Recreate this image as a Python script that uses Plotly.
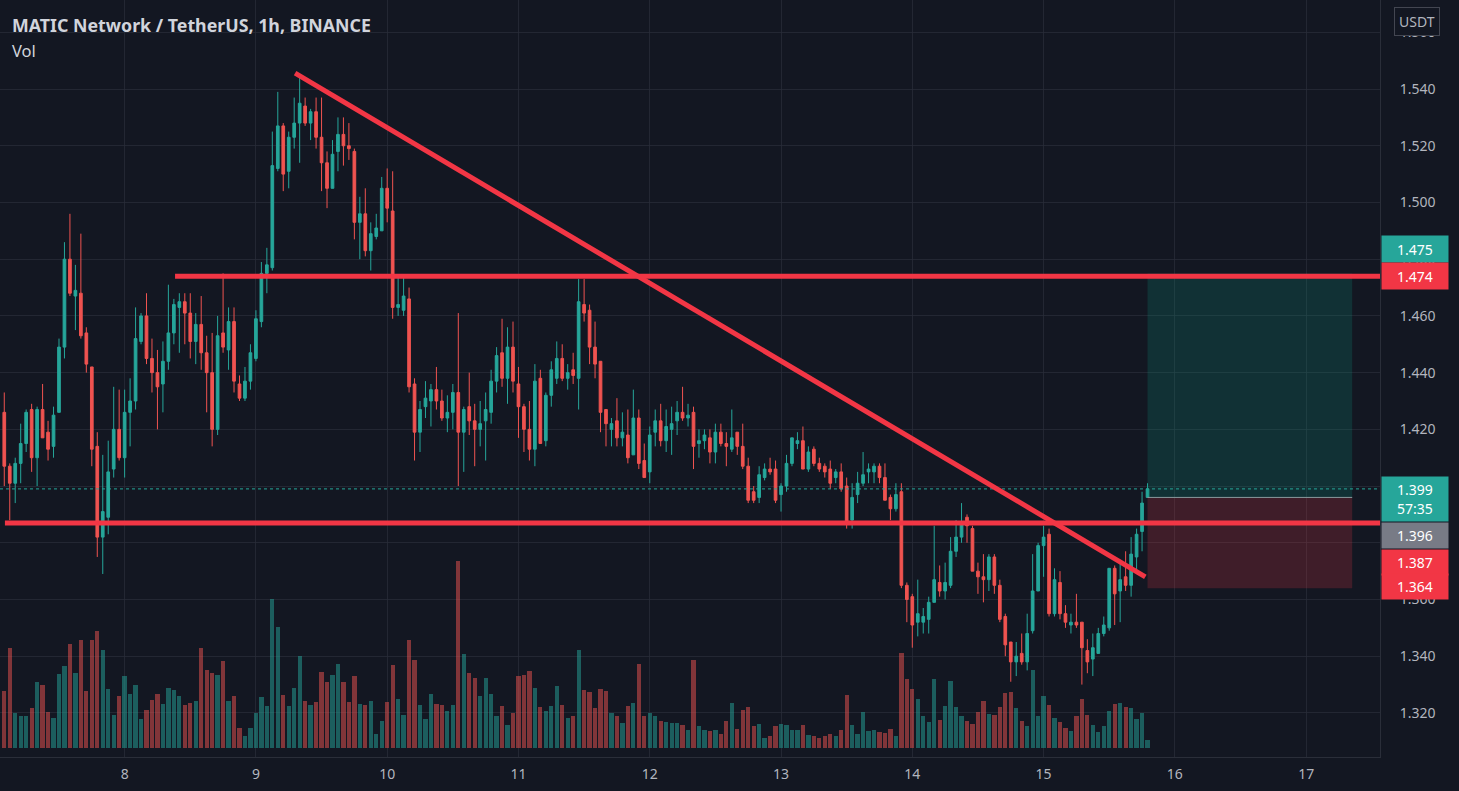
import pandas as pd
import plotly.graph_objects as go

# ---------------- data (MATIC/USDT 1h, Binance) ----------------
start_time = "2021-07-07 02:00"
opens = [1.426,1.407,1.401,1.408,1.415,1.427,1.410,1.427,1.419,1.414,
         1.426,1.449,1.480,1.467,1.468,1.454,1.442,1.414,1.382,1.389,
         1.406,1.420,1.410,1.426,1.430,1.451,1.460,1.445,1.440,1.436,
         1.444,1.454,1.463,1.465,1.461,1.451,1.457,1.447,1.440,1.420,
         1.454,1.448,1.458,1.436,1.431,1.437,1.445,1.458,1.475,1.477,
         1.512,1.527,1.511,1.523,1.528,1.534,1.528,1.532,1.523,1.514,
         1.505,1.518,1.524,1.520,1.518,1.493,1.496,1.483,1.488,1.490,
         1.505,1.497,1.463,1.462,1.466,1.436,1.419,1.428,1.430,1.434,
         1.430,1.424,1.426,1.433,1.419,1.428,1.423,1.420,1.423,1.426,
         1.437,1.447,1.438,1.449,1.436,1.428,1.420,1.413,1.438,1.416,
         1.432,1.438,1.445,1.438,1.441,1.438,1.464,1.462,1.449,1.444,
         1.427,1.420,1.423,1.417,1.418,1.411,1.424,1.409,1.405,1.419,
         1.423,1.416,1.420,1.423,1.426,1.424,1.426,1.415,1.416,1.417,
         1.412,1.419,1.415,1.413,1.419,1.414,1.407,1.398,1.396,1.403,
         1.406,1.406,1.397,1.400,1.408,1.415,1.416,1.406,1.413,1.408,
         1.407,1.406,1.403,1.405,1.400,1.388,1.397,1.401,1.405,1.405,
         1.407,1.403,1.396,1.392,1.398,1.365,1.361,1.352,1.352,1.353,
         1.359,1.366,1.363,1.365,1.377,1.382,1.389,1.385,1.370,1.368,
         1.367,1.375,1.365,1.354,1.345,1.338,1.341,1.338,1.349,1.363,
         1.379,1.383,1.355,1.366,1.355,1.351,1.352,1.352,1.342,1.339,
         1.341,1.348,1.350,1.371,1.363,1.368,1.365,1.375,1.384,1.396]
highs = [1.433,1.408,1.410,1.422,1.427,1.429,1.428,1.436,1.423,1.428,
         1.452,1.486,1.496,1.478,1.489,1.456,1.442,1.419,1.411,1.416,
         1.435,1.434,1.434,1.438,1.463,1.461,1.468,1.452,1.448,1.451,
         1.471,1.466,1.468,1.468,1.468,1.461,1.467,1.453,1.454,1.460,
         1.475,1.463,1.463,1.439,1.442,1.450,1.462,1.479,1.484,1.525,
         1.539,1.528,1.525,1.537,1.545,1.537,1.533,1.537,1.537,1.518,
         1.522,1.530,1.530,1.528,1.519,1.502,1.505,1.493,1.496,1.509,
         1.512,1.511,1.474,1.474,1.470,1.438,1.430,1.437,1.436,1.442,
         1.434,1.432,1.436,1.461,1.428,1.440,1.429,1.430,1.433,1.441,
         1.449,1.459,1.456,1.458,1.442,1.429,1.430,1.443,1.441,1.433,
         1.444,1.451,1.450,1.443,1.447,1.473,1.473,1.464,1.458,1.444,
         1.427,1.424,1.431,1.426,1.427,1.434,1.427,1.415,1.421,1.427,
         1.429,1.427,1.428,1.430,1.435,1.429,1.428,1.420,1.420,1.420,
         1.422,1.422,1.419,1.427,1.419,1.422,1.410,1.400,1.407,1.408,
         1.410,1.409,1.401,1.411,1.417,1.419,1.421,1.414,1.414,1.410,
         1.408,1.409,1.406,1.408,1.403,1.401,1.405,1.412,1.408,1.408,
         1.408,1.408,1.397,1.401,1.401,1.366,1.362,1.367,1.357,1.361,
         1.386,1.372,1.373,1.382,1.388,1.394,1.390,1.386,1.373,1.376,
         1.376,1.376,1.367,1.355,1.345,1.345,1.348,1.355,1.376,1.380,
         1.386,1.385,1.371,1.370,1.358,1.355,1.362,1.352,1.346,1.348,
         1.350,1.354,1.371,1.372,1.374,1.377,1.382,1.385,1.398,1.401]
lows = [1.400,1.388,1.394,1.401,1.412,1.405,1.400,1.417,1.409,1.410,
        1.426,1.445,1.467,1.455,1.452,1.440,1.407,1.375,1.369,1.383,
        1.403,1.409,1.403,1.414,1.427,1.450,1.443,1.433,1.420,1.426,
        1.441,1.450,1.447,1.450,1.445,1.443,1.441,1.426,1.414,1.418,
        1.447,1.441,1.433,1.430,1.430,1.434,1.444,1.456,1.468,1.476,
        1.511,1.504,1.505,1.519,1.514,1.527,1.522,1.519,1.504,1.498,
        1.505,1.511,1.513,1.515,1.487,1.480,1.481,1.476,1.487,1.490,
        1.493,1.459,1.460,1.460,1.433,1.409,1.412,1.424,1.421,1.427,
        1.423,1.419,1.420,1.400,1.405,1.418,1.407,1.414,1.409,1.422,
        1.433,1.435,1.429,1.433,1.417,1.412,1.409,1.407,1.415,1.414,
        1.428,1.436,1.437,1.434,1.436,1.427,1.458,1.443,1.438,1.419,
        1.414,1.414,1.414,1.414,1.408,1.411,1.406,1.403,1.401,1.414,
        1.414,1.412,1.411,1.418,1.423,1.421,1.406,1.410,1.413,1.408,
        1.408,1.414,1.407,1.412,1.411,1.406,1.394,1.394,1.394,1.402,
        1.404,1.394,1.391,1.398,1.407,1.413,1.406,1.405,1.407,1.405,
        1.403,1.399,1.401,1.398,1.385,1.385,1.394,1.400,1.401,1.401,
        1.401,1.395,1.388,1.391,1.364,1.352,1.343,1.347,1.348,1.348,
        1.359,1.361,1.360,1.364,1.375,1.380,1.380,1.370,1.362,1.359,
        1.363,1.362,1.352,1.340,1.331,1.333,1.337,1.335,1.348,1.363,
        1.368,1.354,1.354,1.353,1.350,1.348,1.350,1.330,1.334,1.333,
        1.341,1.347,1.349,1.351,1.352,1.363,1.361,1.369,1.377,1.396]
closes = [1.407,1.401,1.408,1.415,1.426,1.410,1.427,1.417,1.413,1.425,
          1.449,1.480,1.468,1.469,1.453,1.443,1.413,1.382,1.391,1.405,
          1.420,1.410,1.426,1.430,1.452,1.460,1.445,1.440,1.435,1.444,
          1.454,1.464,1.465,1.461,1.451,1.457,1.447,1.440,1.420,1.453,
          1.449,1.458,1.437,1.431,1.437,1.447,1.459,1.475,1.478,1.513,
          1.527,1.510,1.523,1.528,1.535,1.528,1.532,1.523,1.514,1.505,
          1.517,1.524,1.520,1.519,1.493,1.496,1.483,1.489,1.491,1.505,
          1.498,1.463,1.464,1.467,1.435,1.419,1.427,1.431,1.434,1.430,
          1.424,1.426,1.433,1.419,1.427,1.423,1.420,1.422,1.427,1.437,
          1.446,1.438,1.449,1.437,1.428,1.420,1.413,1.437,1.415,1.432,
          1.441,1.445,1.438,1.440,1.439,1.465,1.461,1.449,1.443,1.426,
          1.422,1.422,1.417,1.419,1.410,1.424,1.408,1.403,1.418,1.423,
          1.416,1.421,1.422,1.426,1.424,1.425,1.414,1.416,1.418,1.412,
          1.419,1.415,1.414,1.417,1.414,1.407,1.395,1.395,1.404,1.406,
          1.405,1.395,1.400,1.408,1.417,1.416,1.406,1.412,1.408,1.406,
          1.405,1.401,1.405,1.399,1.387,1.396,1.401,1.404,1.406,1.407,
          1.403,1.395,1.392,1.397,1.365,1.360,1.351,1.355,1.354,1.359,
          1.367,1.363,1.366,1.377,1.382,1.387,1.386,1.370,1.368,1.367,
          1.375,1.365,1.353,1.344,1.338,1.340,1.338,1.348,1.363,1.379,
          1.382,1.355,1.367,1.355,1.352,1.352,1.351,1.343,1.338,1.343,
          1.348,1.351,1.371,1.362,1.367,1.365,1.376,1.383,1.394,1.399]
volumes_k = [567,1000,350,317,323,400,657,633,360,300,
             743,817,1040,750,1083,567,1083,1167,983,590,
             333,517,723,543,633,293,377,477,543,443,
             600,583,523,427,450,467,1000,783,750,733,
             867,467,517,200,123,200,350,510,417,1490,
             1207,533,417,600,917,473,427,457,760,657,
             733,840,657,457,723,443,433,473,143,273,
             457,833,493,333,1083,883,433,293,543,440,
             433,367,427,1867,940,750,697,517,700,540,
             317,417,233,350,717,733,767,600,407,367,
             417,623,433,300,317,977,583,557,400,590,
             573,350,317,250,417,450,843,317,350,323,
             267,260,250,250,227,177,883,217,183,167,
             183,143,267,450,193,383,407,217,243,100,
             117,217,243,227,183,177,227,133,117,100,
             123,143,123,177,533,233,143,360,167,183,
             157,150,193,117,950,693,593,490,317,257,
             693,283,417,673,407,323,273,243,360,473,
             340,327,407,550,557,400,273,217,783,323,
             517,433,300,257,200,167,317,493,333,227,
             157,217,373,443,450,407,400,293,350,77]

# drawings
resistance_price = 1.474
resistance_start = "2021-07-08 09:13"
support_price = 1.387
support_start = "2021-07-07 02:07"
trend_times = ["2021-07-09 07:10", "2021-07-15 18:36"]
trend_prices = [1.5456, 1.368]
pos_times = ["2021-07-15 19:00", "2021-07-17 08:25"]
pos_target, pos_entry, pos_stop = 1.475, 1.396, 1.364
last_price = 1.399
countdown = "57:35"

day_ticks = ["2021-07-%02d" % d for d in range(8, 18)]
day_labels = [str(d) for d in range(8, 18)]
price_ticks = [1.32, 1.34, 1.36, 1.38, 1.40, 1.42, 1.44, 1.46, 1.48, 1.50, 1.52, 1.54, 1.56]

# ---------------- styling ----------------
BG = "#131722"
GRID = "rgba(42,46,57,0.75)"
UP = "#26a69a"
DOWN = "#ef5350"
LINE_RED = "#f23645"
TXT = "#b2b5be"
FONT = "Noto Sans"

times = pd.date_range(start_time, periods=len(closes), freq="h")
x_end = "2021-07-17 13:30"
x_start = "2021-07-07 01:13"

vol_colors = ["rgba(38,166,154,0.5)" if c >= o else "rgba(239,83,80,0.5)"
              for o, c in zip(opens, closes)]

fig = go.Figure()
fig.add_trace(go.Bar(x=times, y=volumes_k, marker_color=vol_colors, marker_line_width=0,
                     width=0.78 * 3600 * 1000, yaxis="y2", hoverinfo="skip", showlegend=False))
fig.add_trace(go.Candlestick(
    x=times, open=opens, high=highs, low=lows, close=closes,
    increasing=dict(line=dict(color=UP, width=1), fillcolor=UP),
    decreasing=dict(line=dict(color=DOWN, width=1), fillcolor=DOWN),
    whiskerwidth=0, showlegend=False, hoverinfo="skip", yaxis="y"))

shapes = []
# position tool
shapes.append(dict(type="rect", xref="x", yref="y", x0=pos_times[0], x1=pos_times[1],
                   y0=pos_entry, y1=pos_target, fillcolor="rgba(8,153,129,0.2)", line_width=0, layer="above"))
shapes.append(dict(type="rect", xref="x", yref="y", x0=pos_times[0], x1=pos_times[1],
                   y0=pos_stop, y1=pos_entry, fillcolor="rgba(242,54,69,0.2)", line_width=0, layer="above"))
shapes.append(dict(type="line", xref="x", yref="y", x0=pos_times[0], x1=pos_times[1],
                   y0=pos_entry, y1=pos_entry, line=dict(color="#8a9a9e", width=1), layer="above"))
# current price dotted line
shapes.append(dict(type="line", xref="x", yref="y", x0=x_start, x1=x_end,
                   y0=last_price, y1=last_price, line=dict(color=UP, width=1, dash="dot"), layer="above"))
# drawings
shapes.append(dict(type="line", xref="x", yref="y", x0=resistance_start, x1=x_end,
                   y0=resistance_price, y1=resistance_price, line=dict(color=LINE_RED, width=5), layer="above"))
shapes.append(dict(type="line", xref="x", yref="y", x0=support_start, x1=x_end,
                   y0=support_price, y1=support_price, line=dict(color=LINE_RED, width=5), layer="above"))
shapes.append(dict(type="line", xref="x", yref="y", x0=trend_times[0], x1=trend_times[1],
                   y0=trend_prices[0], y1=trend_prices[1], line=dict(color=LINE_RED, width=5), layer="above"))

ann = []
ann.append(dict(text="MATIC Network / TetherUS, 1h, BINANCE", xref="paper", yref="paper",
                x=0, y=1, xanchor="left", yanchor="top", xshift=10, yshift=-11, showarrow=False,
                font=dict(family=FONT, size=17.8, color="#d1d4dc", weight="bold")))
ann.append(dict(text="Vol", xref="paper", yref="paper", x=0, y=1, xanchor="left", yanchor="top",
                xshift=10, yshift=-37, showarrow=False, font=dict(family=FONT, size=16.5, color="#d1d4dc")))
ann.append(dict(text="USDT", xref="paper", yref="paper", x=1, y=1, xanchor="left", yanchor="top",
                xshift=14, yshift=-7, showarrow=False, bgcolor=BG, bordercolor="#434651", borderwidth=1,
                borderpad=4, font=dict(family=FONT, size=14, color=TXT)))

def price_label(val, text, color, shift=0, height=20):
    ann.append(dict(text=text, xref="paper", yref="y", x=1, y=val, xanchor="left", yanchor="middle",
                    xshift=1, yshift=shift, showarrow=False, bgcolor=color, borderpad=3, width=60,
                    height=height, align="center", font=dict(family=FONT, size=14, color="#ffffff")))

price_label(pos_target, "%.3f" % pos_target, "#26a69a", shift=24)
price_label(resistance_price, "%.3f" % resistance_price, LINE_RED, shift=0)
price_label(last_price, "%.3f<br>%s" % (last_price, countdown), "#26a69a", shift=-10, height=38)
price_label(pos_entry, "%.3f" % pos_entry, "#787b86", shift=-38, height=19)
price_label(support_price, "%.3f" % support_price, LINE_RED, shift=-40, height=19)
price_label(pos_stop, "%.3f" % pos_stop, LINE_RED, shift=2, height=19)

fig.update_layout(
    width=1459, height=791, autosize=False,
    margin=dict(l=0, r=79, t=0, b=34),
    paper_bgcolor=BG, plot_bgcolor=BG,
    font=dict(family=FONT, color=TXT, size=14),
    shapes=shapes, annotations=ann, bargap=0, hovermode=False,
    xaxis=dict(type="date", range=[x_start, x_end], rangeslider=dict(visible=False),
               tickvals=day_ticks, ticktext=day_labels, showgrid=True, gridcolor=GRID,
               zeroline=False, showline=True, linecolor="#2a2e39", ticks="",
               ticklabelstandoff=4, tickfont=dict(size=14, color=TXT)),
    yaxis=dict(side="right", range=[1.30446, 1.5714], tickvals=price_ticks,
               ticktext=["%.3f" % v for v in price_ticks], showgrid=True, gridcolor=GRID,
               zeroline=False, showline=True, linecolor="#2a2e39", ticks="",
               ticklabelstandoff=16, tickfont=dict(size=14, color=TXT)),
    yaxis2=dict(overlaying="y", range=[-90, 7480], visible=False, showgrid=False),
)

fig.write_html("out.html", config={"displayModeBar": False},
               post_script="document.body.style.margin='0';document.body.style.background='#131722';")
